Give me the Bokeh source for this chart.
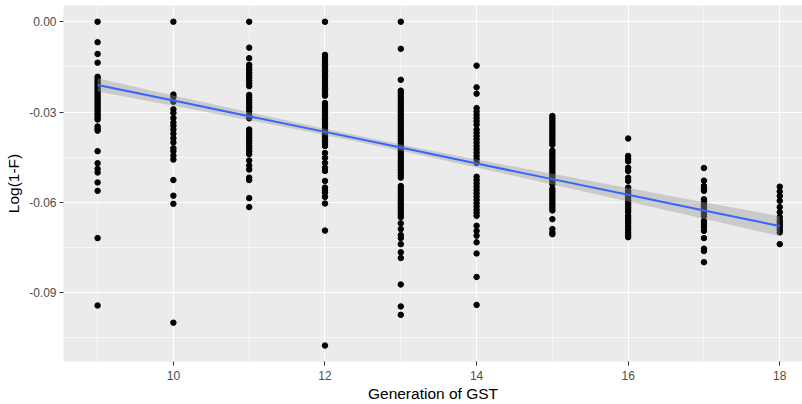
from bokeh.plotting import figure
from bokeh.models import Range1d, FixedTicker, NumeralTickFormatter, ColumnDataSource
from bokeh.embed import file_html
from bokeh.resources import INLINE

# Log(1-F) per individual, grouped by generation of GST (values in thousandths)
generations = [9, 10, 11, 12, 13, 14, 15, 16, 17, 18]

g9 = [0, -6.8, -10.7, -13.6, -18.3, -19.0, -19.8, -20.5, -21.2, -22.0, -22.8, -23.5,
      -24.3, -25.0, -25.8, -26.6, -27.3, -28.0, -28.8, -29.5, -30.3, -31.0, -31.8,
      -32.5, -34.8, -35.6, -36.2, -43.0, -47.0, -48.9, -50.1, -53.4, -56.2, -71.9, -94.3]
g10 = [0, -24.2, -25.0, -26.6, -29.1, -30.3, -32.0, -33.5, -34.6, -35.8, -37.2, -38.7,
       -40.1, -42.0, -43.0, -44.5, -45.8, -52.6, -57.8, -60.5, -100.0]
g11 = [0, -8.6, -12.1, -14.3, -15.2, -16.1, -17.0, -17.9, -18.7, -19.6, -20.5, -21.4,
       -24.3, -25.1, -26.0, -26.9, -27.8, -28.7, -29.7, -31.0, -32.1, -35.8, -36.7,
       -37.6, -38.5, -39.4, -40.3, -41.2, -42.1, -43.0, -44.0, -46.1, -47.8, -49.1,
       -51.8, -52.6, -58.6, -61.6]
g12 = [0, -11.0, -11.8, -12.6, -13.4, -14.2, -15.0, -15.8, -16.6, -17.4, -18.2, -19.0,
       -19.8, -20.6, -21.4, -22.2, -23.0, -23.8, -24.6, -27.0, -27.8, -28.6, -29.4,
       -30.2, -31.0, -31.8, -32.6, -33.4, -34.2, -35.0, -35.8, -36.6, -37.4, -38.2,
       -39.0, -39.8, -40.6, -41.3, -43.6, -45.2, -46.9, -48.5, -49.6, -52.9, -55.1,
       -56.0, -56.8, -58.2, -60.4, -69.4, -107.6]
g13 = [0, -9.0, -19.3, -22.9, -23.7, -24.5, -25.3, -26.1, -26.9, -27.7, -28.5, -29.3,
       -30.1, -30.9, -31.7, -32.5, -33.3, -34.1, -34.9, -35.7, -36.5, -37.3, -38.1,
       -38.9, -39.7, -40.5, -41.3, -42.1, -42.9, -43.7, -44.5, -45.3, -46.1, -46.9,
       -47.7, -48.5, -49.3, -50.1, -51.0, -51.8, -54.6, -55.4, -56.2, -57.0, -57.8,
       -58.6, -59.4, -60.2, -61.0, -61.8, -62.6, -63.4, -64.2, -65.0, -67.0, -68.9,
       -70.9, -71.9, -73.9, -76.6, -78.5, -87.3, -94.6, -97.4]
g14 = [-14.6, -21.8, -23.9, -28.7, -29.8, -30.9, -32.0, -33.1, -34.2, -35.8, -36.9,
       -38.0, -39.1, -40.2, -41.3, -42.4, -43.5, -44.6, -45.7, -46.9, -51.5, -52.6,
       -53.7, -54.8, -55.9, -57.0, -58.1, -59.2, -60.3, -61.4, -62.5, -63.5, -64.5,
       -67.8, -69.5, -71.1, -73.3, -77.0, -84.8, -94.1]
g15 = [-31.3, -32.1, -32.9, -33.7, -34.5, -35.3, -36.1, -36.9, -37.7, -38.5, -39.3,
       -40.1, -40.9, -42.8, -43.6, -44.4, -45.2, -46.0, -46.8, -47.6, -48.4, -49.2,
       -50.0, -50.8, -51.6, -52.4, -53.2, -54.0, -55.5, -56.3, -57.1, -57.9, -58.7,
       -59.5, -60.3, -61.1, -61.9, -62.7, -65.6, -68.9, -70.0, -70.6]
g16 = [-38.8, -44.6, -45.6, -46.4, -48.5, -49.6, -51.8, -52.9, -55.1, -56.2, -57.0,
       -57.8, -58.6, -59.4, -60.2, -61.0, -61.8, -62.6, -63.3, -64.5, -65.3, -66.1,
       -66.9, -67.7, -68.5, -69.3, -70.1, -70.9, -71.6]
g17 = [-48.6, -52.8, -54.6, -55.4, -56.2, -59.0, -59.8, -60.6, -61.4, -62.2, -63.0,
       -63.8, -64.6, -66.2, -67.2, -68.2, -69.5, -71.9, -75.4, -76.2, -79.9]
g18 = [-54.8, -56.4, -57.9, -59.5, -61.6, -63.3, -64.9, -66.0, -66.8, -67.6, -68.4,
       -69.2, -70.0, -73.9]

# Linear fit and its 95% confidence band, per generation (thousandths)
fit_y = [-21.0, -26.2, -31.4, -36.6, -41.8, -47.1, -52.3, -57.5, -62.7, -67.9]
fit_upper = [-18.8, -24.5, -30.1, -35.55, -40.75, -45.8, -50.55, -55.25, -59.95, -64.6]
fit_lower = [-23.2, -27.9, -32.7, -37.65, -42.85, -48.4, -54.05, -59.75, -65.45, -71.2]

groups = [g9, g10, g11, g12, g13, g14, g15, g16, g17, g18]
xs, ys = [], []
for g, vals in zip(generations, groups):
    xs += [g] * len(vals)
    ys += [v / 1000 for v in vals]
pts = ColumnDataSource(dict(x=xs, y=ys))
fit = ColumnDataSource(dict(
    x=generations,
    y=[v / 1000 for v in fit_y],
    lo=[v / 1000 for v in fit_lower],
    hi=[v / 1000 for v in fit_upper],
))

p = figure(width=802, height=404, output_backend="svg", toolbar_location=None,
           x_range=Range1d(8.55, 18.30), y_range=Range1d(-0.1129, 0.0054),
           min_border_left=63, min_border_right=0, min_border_top=5,
           min_border_bottom=40)
p.background_fill_color = "#EBEBEB"
p.border_fill_color = "white"
p.outline_line_color = None

font = "Liberation Sans"

xt = FixedTicker(ticks=[10, 12, 14, 16, 18], minor_ticks=[9, 11, 13, 15, 17])
yt = FixedTicker(ticks=[0, -0.03, -0.06, -0.09],
                 minor_ticks=[-0.015, -0.045, -0.075, -0.105])
p.xaxis.ticker = xt
p.yaxis.ticker = yt
p.xgrid.ticker = xt
p.ygrid.ticker = yt
p.yaxis.formatter = NumeralTickFormatter(format="0.00")

for grid in (p.xgrid, p.ygrid):
    grid.grid_line_color = "white"
    grid.grid_line_width = 1.1
    grid.minor_grid_line_color = "white"
    grid.minor_grid_line_width = 0.55

for ax in (p.xaxis, p.yaxis):
    ax.axis_line_color = None
    ax.major_tick_line_color = "#333333"
    ax.major_tick_line_width = 1
    ax.major_tick_out = 4
    ax.major_tick_in = 0
    ax.minor_tick_line_color = None
    ax.major_label_text_color = "#4D4D4D"
    ax.major_label_text_font = font
    ax.major_label_text_font_size = "12px"
    ax.major_label_standoff = 3
    ax.axis_label_text_font = font
    ax.axis_label_text_font_size = "15.5px"
    ax.axis_label_text_font_style = "normal"
    ax.axis_label_text_color = "black"
    ax.axis_label_standoff = 4

p.xaxis.major_label_standoff = 5
p.xaxis.axis_label_standoff = 2

p.xaxis.axis_label = "Generation of GST"
p.yaxis.axis_label = "Log(1-F)"

p.scatter("x", "y", source=pts, size=5.5, color="black")
p.varea(x="x", y1="lo", y2="hi", source=fit, fill_color="#999999", fill_alpha=0.4)
p.line("x", "y", source=fit, line_color="#3366FF", line_width=2)

open("out.html", "w").write(file_html(p, INLINE))
